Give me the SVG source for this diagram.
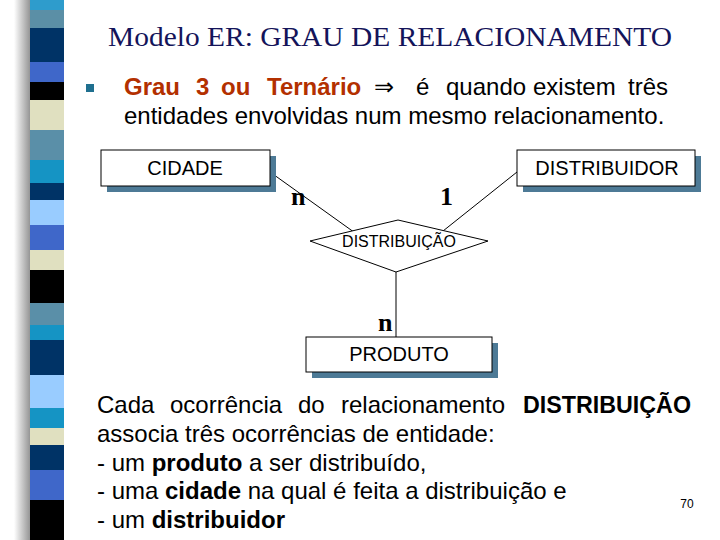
<svg xmlns="http://www.w3.org/2000/svg" width="720" height="540" viewBox="0 0 720 540">
<defs>
<linearGradient id="sh" x1="0" x2="1"><stop offset="0" stop-color="#fff"/><stop offset="1" stop-color="#888"/></linearGradient>
<style>
.s{font-family:"Liberation Sans",Arial,sans-serif}
.box{fill:#fff;stroke:#000;stroke-width:1}
.shd{fill:#4d7a96}
.lbl{font-family:"Liberation Sans",Arial,sans-serif;font-size:20px;text-anchor:middle}
.card{font-family:"Liberation Serif",serif;font-size:26px;font-weight:bold}
</style>
</defs>
<rect width="720" height="540" fill="#fff"/>
<g id="strip">
<rect x="14" y="0" width="18" height="540" fill="url(#sh)"/>
<rect x="30" y="0" width="34" height="10" fill="#2e9ccc"/>
<rect x="30" y="10" width="34" height="18" fill="#5b8fa6"/>
<rect x="30" y="28" width="34" height="34" fill="#003366"/>
<rect x="30" y="62" width="34" height="20" fill="#3f67c9"/>
<rect x="30" y="82" width="34" height="18" fill="#000"/>
<rect x="30" y="100" width="34" height="30" fill="#e0e0c0"/>
<rect x="30" y="130" width="34" height="30" fill="#5a8fa8"/>
<rect x="30" y="160" width="34" height="23" fill="#1594c4"/>
<rect x="30" y="183" width="34" height="17" fill="#003366"/>
<rect x="30" y="200" width="34" height="25" fill="#99ccff"/>
<rect x="30" y="225" width="34" height="25" fill="#3f67c9"/>
<rect x="30" y="250" width="34" height="20" fill="#e0e0c0"/>
<rect x="30" y="270" width="34" height="33" fill="#000"/>
<rect x="30" y="303" width="34" height="22" fill="#5a8fa8"/>
<rect x="30" y="325" width="34" height="15" fill="#1594c4"/>
<rect x="30" y="340" width="34" height="35" fill="#003366"/>
<rect x="30" y="375" width="34" height="33" fill="#99ccff"/>
<rect x="30" y="408" width="34" height="20" fill="#1594c4"/>
<rect x="30" y="428" width="34" height="17" fill="#e0e0c0"/>
<rect x="30" y="445" width="34" height="25" fill="#003366"/>
<rect x="30" y="470" width="34" height="30" fill="#3f67c9"/>
<rect x="30" y="500" width="34" height="40" fill="#000"/>
</g>
<text x="108" y="46" font-family="Liberation Serif,serif" font-size="27" fill="#14145a" textLength="564" lengthAdjust="spacingAndGlyphs">Modelo ER: GRAU DE RELACIONAMENTO</text>
<rect x="86" y="84" width="8" height="8" fill="#1f6f8f"/>
<g class="s" font-size="24">
<g font-weight="bold" fill="#b33000"><text x="124" y="95">Grau</text><text x="196" y="95">3</text><text x="221" y="95">ou</text><text x="267" y="95">Ternário</text></g>
<text x="374" y="95">⇒</text><text x="416" y="95">é</text><text x="446" y="95">quando</text><text x="533" y="95">existem</text><text x="628" y="95">três</text>
<text x="124" y="124">entidades envolvidas num mesmo relacionamento.</text>
</g>
<g id="connectors" stroke="#000" stroke-width="1">
<line x1="270" y1="172" x2="358" y2="235"/>
<line x1="517" y1="172" x2="438" y2="235"/>
<line x1="396" y1="272" x2="396" y2="337"/>
</g>
<g id="cidade"><rect class="shd" x="107" y="156" width="169" height="36"/><rect class="box" x="101" y="150" width="169" height="36"/><text class="lbl" x="185" y="175">CIDADE</text></g>
<g id="distribuidor"><rect class="shd" x="523" y="156" width="178" height="36"/><rect class="box" x="517" y="150" width="178" height="36"/><text class="lbl" x="607" y="175">DISTRIBUIDOR</text></g>
<g id="produto"><rect class="shd" x="312" y="343" width="186" height="35"/><rect class="box" x="306" y="337" width="186" height="35"/><text class="lbl" x="399" y="361">PRODUTO</text></g>
<g id="distribuicao"><polygon points="310,241 398,220 488,241 396,272" fill="#fff" stroke="#000"/><text class="s" x="399" y="247" font-size="16" text-anchor="middle">DISTRIBUIÇÃO</text></g>
<text class="card" x="291" y="205">n</text>
<text class="card" x="440" y="205">1</text>
<text class="card" x="378" y="331">n</text>
<g class="s" font-size="24">
<text x="97" y="413">Cada</text><text x="170" y="413">ocorrência</text><text x="298" y="413">do</text><text x="341" y="413">relacionamento</text><text x="523" y="413" font-weight="bold" textLength="168" lengthAdjust="spacingAndGlyphs">DISTRIBUIÇÃO</text>
<text x="97" y="442">associa três ocorrências de entidade:</text>
<text x="97" y="471">- um <tspan font-weight="bold">produto</tspan> a ser distribuído,</text>
<text x="97" y="499">- uma <tspan font-weight="bold">cidade</tspan> na qual é feita a distribuição e</text>
<text x="97" y="528">- um <tspan font-weight="bold">distribuidor</tspan></text>
</g>
<text class="s" x="687" y="508" font-size="12" text-anchor="middle">70</text>
</svg>
